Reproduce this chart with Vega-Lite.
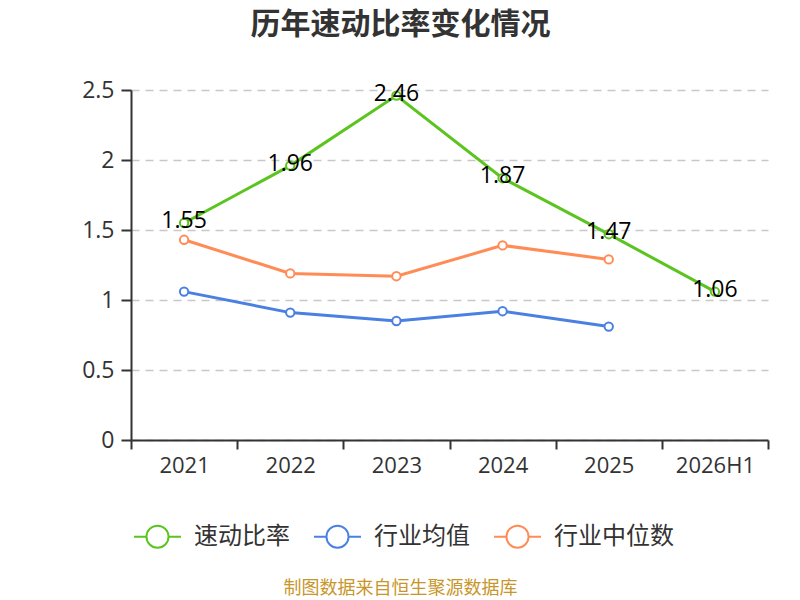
{
  "$schema": "https://vega.github.io/schema/vega-lite/v6.json",
  "width": 637,
  "height": 350,
  "autosize": {"type": "none"},
  "padding": {"left": 131, "top": 90, "right": 32, "bottom": 160},
  "background": "white",
  "config": {
    "view": {"stroke": null},
    "font": "Open Sans, Noto Sans CJK SC"
  },
  "title": {
    "text": "历年速动比率变化情况",
    "fontSize": 30,
    "fontWeight": "bold",
    "color": "#333333",
    "font": "Noto Sans CJK SC",
    "anchor": "middle",
    "dx": -49,
    "offset": 39
  },
  "data": {
    "values": [
      {"year": "2021", "series": "速动比率", "value": 1.55},
      {"year": "2022", "series": "速动比率", "value": 1.96},
      {"year": "2023", "series": "速动比率", "value": 2.46},
      {"year": "2024", "series": "速动比率", "value": 1.87},
      {"year": "2025", "series": "速动比率", "value": 1.47},
      {"year": "2026H1", "series": "速动比率", "value": 1.06},
      {"year": "2021", "series": "行业均值", "value": 1.06},
      {"year": "2022", "series": "行业均值", "value": 0.91},
      {"year": "2023", "series": "行业均值", "value": 0.85},
      {"year": "2024", "series": "行业均值", "value": 0.92},
      {"year": "2025", "series": "行业均值", "value": 0.81},
      {"year": "2021", "series": "行业中位数", "value": 1.43},
      {"year": "2022", "series": "行业中位数", "value": 1.19},
      {"year": "2023", "series": "行业中位数", "value": 1.17},
      {"year": "2024", "series": "行业中位数", "value": 1.39},
      {"year": "2025", "series": "行业中位数", "value": 1.29}
    ]
  },
  "encoding": {
    "x": {
      "field": "year",
      "type": "nominal",
      "sort": ["2021", "2022", "2023", "2024", "2025", "2026H1"],
      "bandPosition": 0.5,
      "scale": {"type": "band", "paddingInner": 0, "paddingOuter": 0},
      "axis": {
        "title": "制图数据来自恒生聚源数据库",
        "titleFont": "Noto Sans CJK SC",
        "titleFontSize": 18,
        "titleFontWeight": "normal",
        "titleColor": "#c8962a",
        "titleX": 269,
        "titleY": 148,
        "titleAlign": "center",
        "titleBaseline": "middle",
        "titleAnchor": null,
        "labelAngle": 0,
        "labelFont": "Open Sans",
        "labelFontSize": 22,
        "labelColor": "#333333",
        "labelPadding": 6,
        "tickBand": "extent",
        "tickSize": 9,
        "tickWidth": 2,
        "tickColor": "#333333",
        "domainColor": "#333333",
        "domainWidth": 2,
        "grid": false
      }
    },
    "y": {
      "field": "value",
      "type": "quantitative",
      "scale": {"domain": [0, 2.5], "nice": false},
      "axis": {
        "title": null,
        "values": [0, 0.5, 1, 1.5, 2, 2.5],
        "format": "~g",
        "labelFont": "Open Sans",
        "labelFontSize": 23,
        "labelColor": "#333333",
        "labelPadding": 7,
        "tickSize": 10,
        "tickWidth": 2,
        "tickColor": "#333333",
        "domainColor": "#333333",
        "domainWidth": 2,
        "grid": true,
        "gridColor": "#c8c8c8",
        "gridDash": [8, 6],
        "gridWidth": 1.5
      }
    }
  },
  "layer": [
    {
      "mark": {"type": "line", "strokeWidth": 3},
      "encoding": {
        "color": {
          "field": "series",
          "type": "nominal",
          "sort": ["速动比率", "行业均值", "行业中位数"],
          "scale": {
            "domain": ["速动比率", "行业均值", "行业中位数"],
            "range": ["#5bc41f", "#4a80e2", "#ff8c57"]
          },
          "legend": {
            "title": null,
            "orient": "none",
            "direction": "horizontal",
            "legendX": 2,
            "legendY": 422,
            "labelFontSize": 24,
            "labelColor": "#333333",
            "labelFont": "Noto Sans CJK SC",
            "labelOffset": 12,
            "columnPadding": 20,
            "symbolType": "M-1,0H-0.47M0.47,0H1M-0.47,0A0.47,0.47 0 1,1 0.47,0A0.47,0.47 0 1,1 -0.47,0Z",
            "symbolSize": 2209,
            "symbolStrokeWidth": 2,
            "symbolFillColor": "#ffffff"
          }
        }
      }
    },
    {
      "mark": {"type": "point", "filled": true, "fill": "white", "strokeWidth": 2, "size": 70, "opacity": 1},
      "encoding": {
        "stroke": {
          "field": "series",
          "type": "nominal",
          "scale": {
            "domain": ["速动比率", "行业均值", "行业中位数"],
            "range": ["#5bc41f", "#4a80e2", "#ff8c57"]
          },
          "legend": null
        }
      }
    },
    {
      "transform": [{"filter": "datum.series === '速动比率'"}],
      "mark": {"type": "text", "fontSize": 23, "color": "#000000", "dy": -2, "font": "Open Sans"},
      "encoding": {
        "text": {"field": "value", "type": "quantitative", "format": ".2f"}
      }
    }
  ]
}
